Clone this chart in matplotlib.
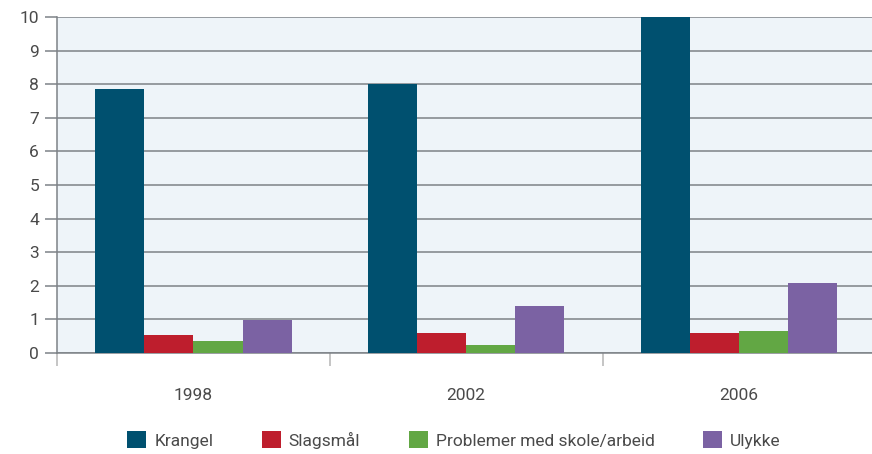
import numpy as np
import matplotlib
matplotlib.use("Agg")
import matplotlib.pyplot as plt
from matplotlib.patches import Patch

years = ["1998", "2002", "2006"]
series = ["Krangel", "Slagsmål", "Problemer med skole/arbeid", "Ulykke"]
krangel = [7.85, 8.0, 10.0]
slagsmal = [0.55, 0.6, 0.6]
skole = [0.36, 0.25, 0.65]
ulykke = [0.97, 1.4, 2.08]
colors = ["#00506f", "#be1e2d", "#62a744", "#7b62a3"]

plt.rcParams["font.family"] = ["Roboto", "DejaVu Sans"]
txt = "#4a4a4a"
grid = "#7d8287"

fig = plt.figure(figsize=(8.72, 4.54), dpi=100)
ax = fig.add_axes([57 / 872, 1 - 353 / 454, 1 - 57 / 872, 336 / 454])
ax.set_facecolor("#eef4f9")

x = np.arange(len(years))
w = 0.18
for i, (vals, c) in enumerate(zip([krangel, slagsmal, skole, ulykke], colors)):
    ax.bar(x + (i - 1.5) * w, vals, w, color=c, zorder=3)

ax.set_ylim(0, 10)
ax.set_xlim(-0.5, (872 - 193) / 273)
ax.set_yticks(range(11))
ax.yaxis.grid(True, color=grid, lw=1.1, zorder=1)
ax.tick_params(axis="y", length=9, color=grid, width=1.1, labelsize=12.5, labelcolor=txt, pad=4)
ax.set_xticks([-0.5, 0.5, 1.5])
ax.set_xticklabels([])
ax.set_xticks(x, minor=True)
ax.set_xticklabels(years, minor=True)
ax.tick_params(axis="x", which="major", length=9, color="#b5b5b5", width=1.1, direction="out")
ax.tick_params(axis="x", which="minor", length=0, pad=25, labelsize=12.5, labelcolor=txt)
for s in ["top", "right"]:
    ax.spines[s].set_visible(False)
ax.spines["left"].set_color(grid)
ax.spines["bottom"].set_color(grid)
ax.spines["left"].set_linewidth(1.1)
ax.spines["bottom"].set_linewidth(1.1)

handles = [Patch(facecolor=c, label=s) for c, s in zip(colors, series)]
fig.legend(handles=handles, loc="center", bbox_to_anchor=(454 / 872, 1 - 440 / 454), ncol=4,
           frameon=False, fontsize=12.5, labelcolor=txt, handlelength=1.1, handleheight=1.1,
           handletextpad=0.45, columnspacing=2.8)

fig.savefig("out.png", dpi=100)
